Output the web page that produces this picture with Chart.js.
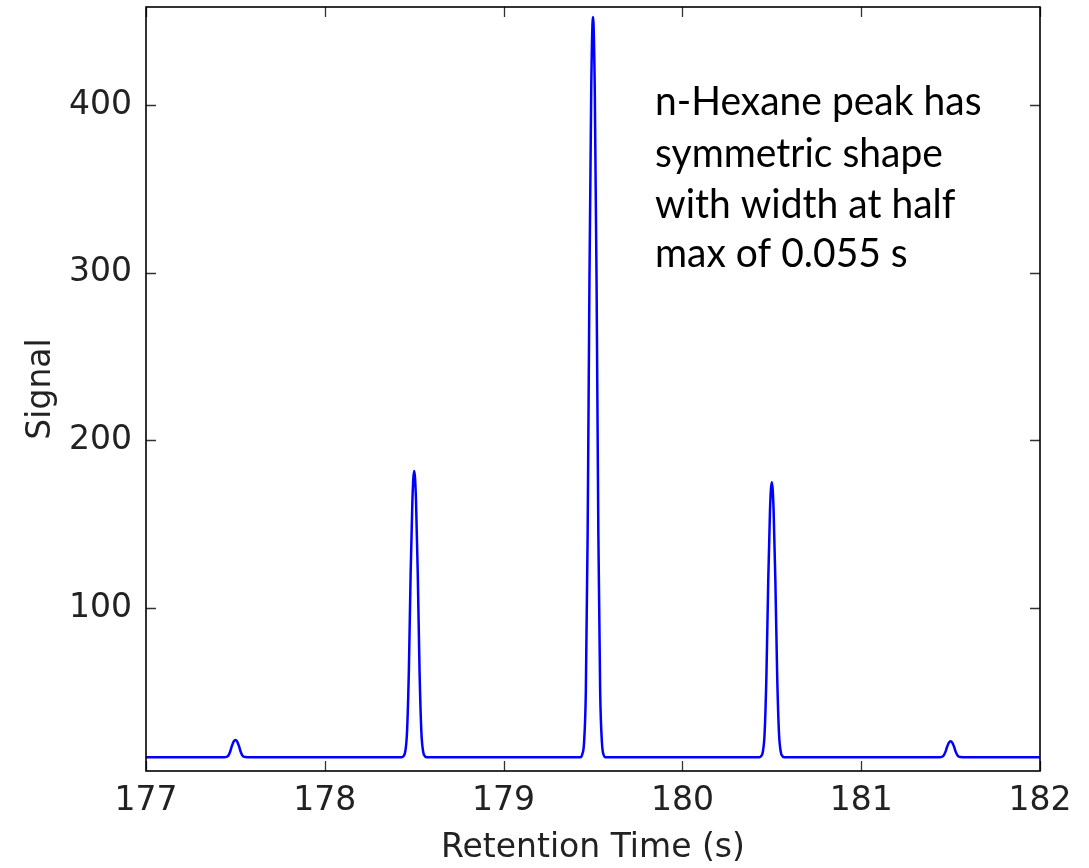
<!DOCTYPE html>
<html>
<head>
<meta charset="utf-8">
<script src="https://cdn.jsdelivr.net/npm/chart.js@4/dist/chart.umd.min.js"></script>
<style>
  html, body { margin: 0; padding: 0; background: #ffffff; }
  #wrap { width: 1089px; height: 868px; }
</style>
</head>
<body>
<div id="wrap"><canvas id="c" width="1089" height="868"></canvas></div>
<script>
// Retention time (s) sample points
const time = [
  177.00,
  177.43, 177.44, 177.45, 177.46, 177.47, 177.48, 177.49, 177.50, 177.51, 177.52, 177.53, 177.54, 177.55, 177.56, 177.57,
  178.43, 178.44, 178.45, 178.46, 178.47, 178.48, 178.49, 178.50, 178.51, 178.52, 178.53, 178.54, 178.55, 178.56, 178.57,
  179.43, 179.44, 179.45, 179.46, 179.47, 179.48, 179.49, 179.50, 179.51, 179.52, 179.53, 179.54, 179.55, 179.56, 179.57,
  180.43, 180.44, 180.45, 180.46, 180.47, 180.48, 180.49, 180.50, 180.51, 180.52, 180.53, 180.54, 180.55, 180.56, 180.57,
  181.43, 181.44, 181.45, 181.46, 181.47, 181.48, 181.49, 181.50, 181.51, 181.52, 181.53, 181.54, 181.55, 181.56, 181.57,
  182.00
];
// Signal values at those times
const signal = [
  11.0,
  11.0, 11.0, 11.2, 11.9, 14.1, 17.6, 20.3, 21.3, 20.3, 17.6, 14.1, 11.9, 11.2, 11.1, 11.0,
  11.0, 11.7, 14.4, 26.4, 62.2, 120.2, 164.6, 181.7, 164.6, 120.2, 62.2, 26.4, 14.4, 11.6, 11.0,
  11.0, 12.8, 19.8, 50.7, 143.5, 293.6, 408.4, 452.5, 408.4, 293.6, 143.5, 50.7, 19.8, 12.2, 11.0,
  11.0, 11.7, 14.3, 25.8, 60.2, 116.0, 158.7, 175.1, 158.7, 116.0, 60.2, 25.8, 14.3, 11.6, 11.0,
  11.0, 11.0, 11.2, 11.9, 13.9, 17.1, 19.6, 20.6, 19.6, 17.1, 13.9, 11.9, 11.2, 11.1, 11.0,
  11.0
];
const xTicks = [177, 178, 179, 180, 181, 182];
const yTicks = [100, 200, 300, 400];
const xLabel = 'Retention Time (s)';
const yLabel = 'Signal';
const noteLines = ['n-Hexane peak has', 'symmetric shape', 'with width at half', 'max of 0.055 s'];

const points = time.map((t, i) => ({ x: t, y: signal[i] }));

const framePlugin = {
  id: 'frame',
  afterDraw(chart) {
    const { ctx, chartArea: a, scales } = chart;
    ctx.save();
    // inward ticks
    ctx.strokeStyle = '#333333';
    ctx.lineWidth = 1.3;
    const L = 10;
    ctx.beginPath();
    scales.x.ticks.forEach(t => {
      const px = Math.round(scales.x.getPixelForValue(t.value)) + 0.5;
      ctx.moveTo(px, a.bottom); ctx.lineTo(px, a.bottom - L);
      ctx.moveTo(px, a.top); ctx.lineTo(px, a.top + L);
    });
    scales.y.ticks.forEach(t => {
      const py = Math.round(scales.y.getPixelForValue(t.value)) + 0.5;
      ctx.moveTo(a.left, py); ctx.lineTo(a.left + L, py);
      ctx.moveTo(a.right, py); ctx.lineTo(a.right - L, py);
    });
    ctx.stroke();
    // frame
    ctx.strokeStyle = '#000000';
    ctx.lineWidth = 1.6;
    ctx.strokeRect(a.left, a.top, a.right - a.left, a.bottom - a.top);
    // annotation
    ctx.fillStyle = '#000000';
    ctx.font = '39px Lato, "Open Sans", sans-serif';
    ctx.textAlign = 'left';
    ctx.textBaseline = 'alphabetic';
    const baselines = [115, 167, 218, 267];
    noteLines.forEach((s, i) => {
      ctx.save();
      ctx.translate(655, baselines[i]);
      ctx.scale(1, 1.06);
      ctx.fillText(s, 0, 0);
      ctx.restore();
    });
    ctx.restore();
  }
};

const tickFont = { family: '"DejaVu Sans", sans-serif', size: 33 };

new Chart(document.getElementById('c'), {
  type: 'line',
  data: {
    datasets: [{
      data: points,
      borderColor: '#0000ff',
      borderWidth: 2.5,
      pointRadius: 0,
      fill: false,
      cubicInterpolationMode: 'monotone'
    }]
  },
  options: {
    responsive: false,
    animation: false,
    events: [],
    layout: { padding: { top: 7, right: 49, left: 0, bottom: 0 } },
    plugins: { legend: { display: false }, tooltip: { enabled: false } },
    scales: {
      x: {
        type: 'linear',
        min: 177, max: 182,
        afterBuildTicks: s => { s.ticks = xTicks.map(v => ({ value: v })); },
        afterFit: s => { s.height = 97; s.paddingLeft = 0; s.paddingRight = 0; },
        grid: { display: false, drawTicks: false },
        border: { display: false },
        ticks: { color: '#222222', font: tickFont, padding: 11, maxRotation: 0, autoSkip: false },
        title: { display: true, text: xLabel, color: '#222222', font: tickFont, padding: { top: 0, bottom: 0 } }
      },
      y: {
        type: 'linear',
        min: 2.8, max: 458.5,
        afterBuildTicks: s => { s.ticks = yTicks.map(v => ({ value: v })); },
        afterFit: s => { s.width = 146; s.paddingTop = 0; s.paddingBottom = 0; },
        grid: { display: false, drawTicks: false },
        border: { display: false },
        ticks: { color: '#222222', font: tickFont, padding: 14, autoSkip: false },
        title: { display: true, text: yLabel, color: '#222222', font: tickFont, padding: { top: 22, bottom: 0 } }
      }
    }
  },
  plugins: [framePlugin]
});
</script>
</body>
</html>
